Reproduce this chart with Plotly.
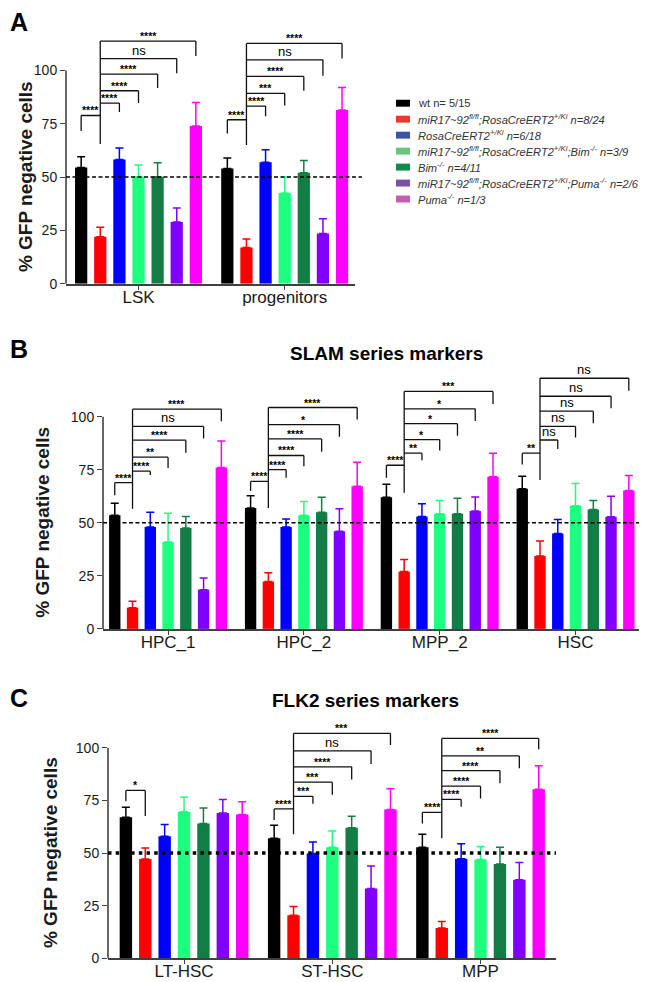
import plotly.graph_objects as go

W, H = 647, 982
FONT = "Liberation Sans, Arial, sans-serif"

# ---------------- data ----------------
SERIES = [
    "wt n= 5/15",
    "<i>miR17~92<sup>fl/fl</sup>;RosaCreERT2<sup>+/Ki</sup> n=8/24</i>",
    "<i>RosaCreERT2<sup>+/Ki</sup> n=6/18</i>",
    "<i>miR17~92<sup>fl/fl</sup>;RosaCreERT2<sup>+/Ki</sup>;Bim<sup>-/-</sup> n=3/9</i>",
    "<i>Bim<sup>-/-</sup> n=4/11</i>",
    "<i>miR17~92<sup>fl/fl</sup>;RosaCreERT2<sup>+/Ki</sup>;Puma<sup>-/-</sup> n=2/6</i>",
    "<i>Puma<sup>-/-</sup> n=1/3</i>",
]
BAR_COLORS = ["#000000", "#ff0000", "#0000ff", "#1eff80", "#127d45", "#8000ff", "#ff00ff"]
LEGEND_COLORS = ["#000000", "#e8392f", "#3b55a6", "#6ac47e", "#0e8a4b", "#7a52a5", "#c45cb0"]

A_CATS = ["LSK", "progenitors"]
A_MEAN = [[54.5, 54.0], [22.0, 17.0], [58.3, 57.0], [50.2, 42.5], [50.2, 52.0], [29.0, 23.5], [74.0, 81.5]]
A_ERR = [[5.0, 5.0], [4.5, 4.0], [5.3, 5.8], [5.5, 7.5], [6.5, 5.8], [6.5, 7.0], [11.0, 10.5]]
A_SIG = [["****", "****", "****", "****", "ns", "****"],
         ["****", "****", "***", "****", "ns", "****"]]

B_CATS = ["HPC_1", "HPC_2", "MPP_2", "HSC"]
B_MEAN = [[53.5, 57.0, 62.0, 66.0], [10.0, 22.3, 27.0, 34.4], [48.0, 48.0, 53.0, 45.0],
          [41.0, 53.5, 54.3, 58.0], [47.5, 55.0, 54.2, 56.3], [18.5, 46.0, 55.6, 52.8],
          [76.0, 67.2, 71.7, 65.2]]
B_ERR = [[5.7, 5.7, 6.2, 5.9], [3.0, 4.2, 5.7, 7.0], [7.0, 3.8, 6.0, 6.5],
         [13.5, 6.5, 6.2, 10.5], [5.5, 7.0, 7.3, 4.2], [5.5, 10.6, 6.6, 9.7],
         [12.5, 11.3, 11.1, 7.1]]
B_SIG = [["****", "****", "**", "****", "ns", "****"],
         ["****", "****", "****", "****", "*", "****"],
         ["****", "**", "*", "*", "*", "***"],
         ["**", "ns", "ns", "ns", "ns", "ns"]]

C_CATS = ["LT-HSC", "ST-HSC", "MPP"]
C_MEAN = [[67.0, 57.0, 52.8], [47.2, 20.4, 14.4], [58.0, 49.8, 47.3], [69.7, 52.8, 46.9],
          [64.0, 62.0, 44.8], [69.0, 33.2, 37.3], [68.3, 70.7, 80.4]]
C_ERR = [[4.8, 6.2, 6.1], [5.2, 4.2, 3.0], [5.6, 5.5, 7.1], [6.8, 7.7, 6.2],
         [7.4, 5.5, 8.0], [6.5, 10.7, 8.2], [6.1, 9.9, 11.1]]
C_SIG = [["*"],
         ["****", "***", "***", "****", "ns", "***"],
         ["****", "****", "****", "****", "**", "****"]]

TICKS = [0, 25, 50, 75, 100]

# ---------------- layout geometry (annotation positions) ----------------
BARGAP = 0.0845
BARGROUPGAP = 0.36
SLOT = (1 - BARGAP) / 7

PANELS = [
    dict(cats=A_CATS, mean=A_MEAN, err=A_ERR, sig=A_SIG,
         xpx=(58, 347), ypx_bottom=278, pxu=2.15, ymax=122, xrange=[-0.496, 1.481],
         ref=dict(dash="4px,2.5px", width=1.5, ext=1.024),
         base=[65.5, 65.0],
         levels=[[78.9, 84.7, 90.5, 98.3, 105.6, 113.8], [76.9, 83.3, 89.3, 97.2, 105.0, 112.7]],
         ends=[[71.6, 80.5, 84.8, 91.8, 98.7, 106.8], [70.4, 78.5, 83.6, 90.5, 97.5, 105.6]],
         letter="A", letter_y=14, ytitle_x=17, title=None),
    dict(cats=B_CATS, mean=B_MEAN, err=B_ERR, sig=B_SIG,
         xpx=(95, 633), ypx_bottom=626, pxu=2.14, ymax=126, xrange=[-0.479, 3.482],
         ref=dict(dash="4px,2.5px", width=1.5, ext=1.009),
         base=[56.6, 57.0, 64.2, 70.1],
         levels=[[68.9, 74.3, 80.9, 88.9, 95.4, 103.5], [69.5, 75.0, 81.7, 89.5, 96.2, 104.3],
                 [77.1, 82.8, 89.2, 96.7, 103.7, 111.9], [82.8, 89.0, 95.4, 102.6, 109.6, 118.1]],
         ends=[[63.0, 72.5, 75.8, 83.0, 89.7, 97.8], [65.0, 71.2, 76.6, 83.5, 90.5, 98.6],
               [71.2, 79.4, 84.0, 91.0, 98.0, 106.0], [77.4, 84.8, 90.2, 96.9, 103.9, 112.2]],
         letter="B", letter_y=344, ytitle_x=35,
         title=("SLAM series markers", 378, 348)),
    dict(cats=C_CATS, mean=C_MEAN, err=C_ERR, sig=C_SIG,
         xpx=(100, 548), ypx_bottom=958, pxu=2.12, ymax=115, xrange=[-0.513, 2.509],
         ref=dict(dash="3.5px,4.2px", width=3.5, ext=1.0),
         base=[67.6, 58.9, 57.0],
         levels=[[79.8], [71.0, 77.0, 83.7, 91.0, 98.6, 106.9], [69.3, 75.5, 81.8, 89.2, 96.2, 104.5]],
         ends=[[74.6], [65.7, 73.5, 77.7, 85.0, 92.3, 101.4], [64.1, 72.0, 75.9, 83.2, 90.3, 99.4]],
         letter="C", letter_y=696, ytitle_x=42,
         title=("FLK2 series markers", 357, 698)),
]

AX_COLOR = "#404040"
TXT = "#1a1a1a"


def px_x(px):
    return px / W


def px_y(py):
    return 1 - py / H


fig = go.Figure()
shapes = []
annotations = []
layout = {}

for p, P in enumerate(PANELS):
    sfx = "" if p == 0 else str(p + 1)
    n = len(P["cats"])
    for i in range(7):
        fig.add_trace(go.Bar(
            x=P["cats"], y=P["mean"][i], name=SERIES[i], showlegend=False,
            marker=dict(color=BAR_COLORS[i], line=dict(width=0)),
            error_y=dict(type="data", array=P["err"][i], arrayminus=[0] * n, symmetric=False,
                         color=BAR_COLORS[i], thickness=1.5, width=4),
            xaxis="x" + sfx, yaxis="y" + sfx,
        ))
    ytop_px = P["ypx_bottom"] - P["ymax"] * P["pxu"]
    layout["xaxis" + sfx] = dict(
        domain=[px_x(P["xpx"][0]), px_x(P["xpx"][1])], anchor="y" + sfx, type="category",
        range=P["xrange"], showline=True, linecolor=AX_COLOR, linewidth=1.6,
        ticks="outside", ticklen=4, tickwidth=1.4, tickcolor=AX_COLOR, ticklabelstandoff=-7,
        tickfont=dict(size=17, color=TXT, family=FONT), showgrid=False, zeroline=False, fixedrange=True)
    layout["yaxis" + sfx] = dict(
        domain=[px_y(P["ypx_bottom"]), px_y(ytop_px)], anchor="x" + sfx, range=[0, P["ymax"]],
        tickvals=TICKS, ticks="outside", ticklen=5, tickwidth=1.4, tickcolor=AX_COLOR,
        tickfont=dict(size=14, color=TXT, family=FONT), showline=False, showgrid=False,
        zeroline=False, fixedrange=True)
    xr, yr = "x" + sfx, "y" + sfx
    # y axis line (0..100 only)
    shapes.append(dict(type="line", xref=xr + " domain", yref=yr, x0=0, x1=0, y0=0, y1=TICKS[-1],
                       line=dict(color=AX_COLOR, width=1.6)))
    # 50% reference line
    shapes.append(dict(type="line", xref=xr + " domain", yref=yr, x0=0, x1=P["ref"]["ext"], y0=50, y1=50,
                       line=dict(color="#000000", width=P["ref"]["width"], dash=P["ref"]["dash"])))
    # significance brackets
    for g in range(n):
        cx = [g + (i - 3) * SLOT for i in range(7)]
        red = cx[1]
        lv, en, sg = P["levels"][g], P["ends"][g], P["sig"][g]
        bl = dict(color="#111111", width=1.3)
        shapes.append(dict(type="line", xref=xr, yref=yr, x0=red, x1=red, y0=P["base"][g], y1=lv[-1], line=bl))
        for k in range(len(lv)):
            tgt = cx[0] if k == 0 else cx[k + 1]
            shapes.append(dict(type="line", xref=xr, yref=yr, x0=red, x1=tgt, y0=lv[k], y1=lv[k], line=bl))
            shapes.append(dict(type="line", xref=xr, yref=yr, x0=tgt, x1=tgt, y0=lv[k], y1=en[k], line=bl))
            is_ns = sg[k] == "ns"
            annotations.append(dict(
                xref=xr, yref=yr, x=(red + tgt) / 2, y=lv[k],
                text=sg[k] if is_ns else "<b>%s</b>" % sg[k], showarrow=False,
                xanchor="center", yanchor="bottom", yshift=-1 if is_ns else -3,
                font=dict(size=13 if is_ns else 10.5, color="#000000", family=FONT)))
    # y title
    ymid_px = P["ypx_bottom"] - 50 * P["pxu"]
    annotations.append(dict(xref="paper", yref="paper", x=px_x(P["ytitle_x"]), y=px_y(ymid_px),
                            text="<b>% GFP negative cells</b>", textangle=-90, showarrow=False,
                            xanchor="center", yanchor="middle",
                            font=dict(size=19, color=TXT, family=FONT)))
    # panel letter
    annotations.append(dict(xref="paper", yref="paper", x=0, y=px_y(P["letter_y"]),
                            text="<b>%s</b>" % P["letter"], showarrow=False,
                            xanchor="left", yanchor="middle",
                            font=dict(size=25, color="#000000", family=FONT)))
    if P["title"]:
        t, tx, ty = P["title"]
        annotations.append(dict(xref="paper", yref="paper", x=px_x(tx), y=px_y(ty),
                                text="<b>%s</b>" % t, showarrow=False,
                                xanchor="center", yanchor="middle",
                                font=dict(size=19, color="#000000", family=FONT)))

# legend (manual, panel A)
for i, name in enumerate(SERIES):
    cy = 96 + i * 16.1
    shapes.append(dict(type="rect", xref="paper", yref="paper",
                       x0=px_x(388), x1=px_x(402), y0=px_y(cy + 3.5), y1=px_y(cy - 3.5),
                       fillcolor=LEGEND_COLORS[i], line=dict(width=0)))
    annotations.append(dict(xref="paper", yref="paper", x=px_x(408), y=px_y(cy), text=name,
                            showarrow=False, xanchor="left", yanchor="middle",
                            font=dict(size=11.1, color="#333333", family=FONT)))

fig.update_layout(
    width=W, height=H, margin=dict(l=0, r=0, t=0, b=0),
    paper_bgcolor="white", plot_bgcolor="white",
    barmode="group", bargap=BARGAP, bargroupgap=BARGROUPGAP,
    showlegend=False, shapes=shapes, annotations=annotations,
    font=dict(family=FONT, color=TXT),
    **layout,
)

fig.write_html("out.html", config={"displayModeBar": False})
